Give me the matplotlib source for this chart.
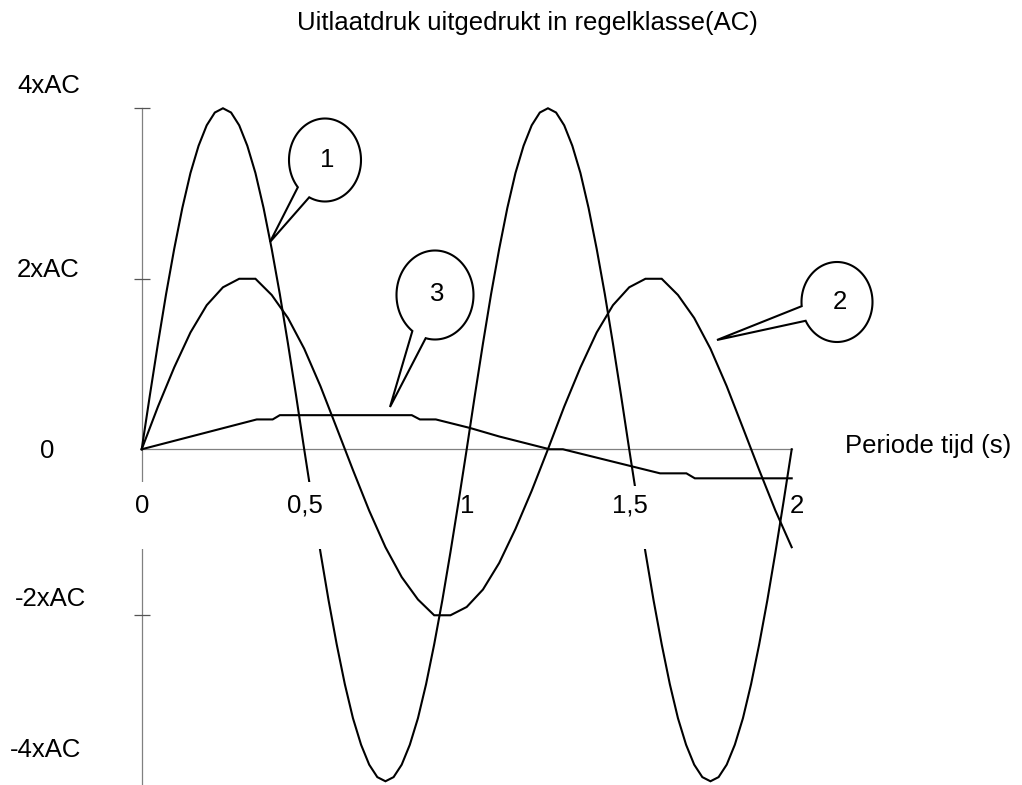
import numpy as np
import matplotlib
matplotlib.use('Agg')
import matplotlib.pyplot as plt
from matplotlib.patches import Rectangle, Polygon

plt.rcParams['font.family'] = ['Liberation Sans', 'DejaVu Sans']
FS = 18.5

# curve 1: fast pressure wave (4xAC)
x1 = [i * 0.025 for i in range(81)]
y1 = [0, 0.63, 1.24, 1.82, 2.35, 2.83, 3.24, 3.56, 3.80, 3.95, 4.00,
      3.95, 3.80, 3.56, 3.24, 2.83, 2.35, 1.82, 1.24, 0.63, 0,
      -0.63, -1.24, -1.82, -2.35, -2.83, -3.24, -3.56, -3.80, -3.95, -4.00,
      -3.95, -3.80, -3.56, -3.24, -2.83, -2.35, -1.82, -1.24, -0.63, 0,
      0.63, 1.24, 1.82, 2.35, 2.83, 3.24, 3.56, 3.80, 3.95, 4.00,
      3.95, 3.80, 3.56, 3.24, 2.83, 2.35, 1.82, 1.24, 0.63, 0,
      -0.63, -1.24, -1.82, -2.35, -2.83, -3.24, -3.56, -3.80, -3.95, -4.00,
      -3.95, -3.80, -3.56, -3.24, -2.83, -2.35, -1.82, -1.24, -0.63, 0]

# curve 2: 2xAC wave
x2 = [i * 0.05 for i in range(41)]
y2 = [0, 0.50, 0.96, 1.37, 1.69, 1.90, 2.00, 2.00, 1.81, 1.54, 1.18,
      0.74, 0.25, -0.25, -0.74, -1.18, -1.54, -1.81, -2.00, -2.00, -1.90,
      -1.69, -1.37, -0.96, -0.50, 0, 0.50, 0.96, 1.37, 1.69, 1.90,
      2.00, 2.00, 1.81, 1.54, 1.18, 0.74, 0.25, -0.25, -0.74, -1.18]

# curve 3: small slow wave
x3 = [0, 0.354, 0.403, 0.425, 0.831, 0.856, 0.905, 1.01, 1.10, 1.255,
      1.296, 1.595, 1.676, 1.702, 2.0]
y3 = [0, 0.35, 0.35, 0.40, 0.40, 0.35, 0.35, 0.25, 0.15, 0.0,
      0.0, -0.29, -0.29, -0.35, -0.35]

xtick_vals = [0, 0.5, 1, 1.5, 2]
xtick_labels = ['0', '0,5', '1', '1,5', '2']
ytick_vals = [4, 2, -2]

# negative half is drawn slightly compressed in the original
NEG = 0.9736
def fwd(y):
    y = np.asarray(y, dtype=float)
    return np.where(y < 0, y * NEG, y)
def inv(t):
    t = np.asarray(t, dtype=float)
    return np.where(t < 0, t / NEG, t)

W, H = 1022, 785
fig = plt.figure(figsize=(W / 100, H / 100), dpi=100)

ybot = -4.045
ytop = 4.3
ax = fig.add_axes([141.7 / W, 0, 650 / W, (H - 82.7) / H])
ax.set_yscale('function', functions=(fwd, inv))
ax.set_xlim(0, 2)
ax.set_ylim(ybot, ytop)

for xs, ys in [(x1, y1), (x2, y2), (x3, y3)]:
    ax.plot(xs, ys, color='black', lw=1.5, clip_on=False, zorder=2,
            solid_joinstyle='miter')

# white gaps (label boxes in the original)
for (x0, x1_, yb, yt) in [(-0.02, 0.02, -1.20, -0.394),
                         (0.49, 0.57, -1.20, -0.394),
                         (1.49, 1.57, -1.20, -0.44)]:
    ax.add_patch(Rectangle((x0, yb), x1_ - x0, yt - yb, facecolor='white',
                           edgecolor='none', zorder=3, clip_on=False))

for s in ['top', 'right']:
    ax.spines[s].set_visible(False)
ax.spines['bottom'].set_position(('data', 0))
ax.spines['bottom'].set_bounds(0, 2)
ax.spines['left'].set_bounds(ybot, 4)
for s in ['left', 'bottom']:
    ax.spines[s].set_color('#808080')
    ax.spines[s].set_linewidth(0.9)
    ax.spines[s].set_zorder(1)
ax.set_xticks([])
ax.set_yticks(ytick_vals)
ax.set_yticklabels([])
ax.tick_params(axis='y', direction='inout', length=12, width=0.9, color='#555555')
ax.patch.set_visible(False)

for xv, lab in zip(xtick_vals, xtick_labels):
    shift = 0.016 if lab == '2' else 0.003
    ax.text(xv + shift, -0.767, lab, ha='center', va='baseline', fontsize=FS, zorder=5)

# overlay in pixel coordinates for the free text and callouts
ov = fig.add_axes([0, 0, 1, 1])
ov.set_xlim(0, W)
ov.set_ylim(H, 0)
ov.axis('off')
ov.patch.set_visible(False)

ov.text(527, 30, 'Uitlaatdruk uitgedrukt in regelklasse(AC)', ha='center',
        va='baseline', fontsize=FS)
ov.text(845, 453, 'Periode tijd (s)', ha='left', va='baseline', fontsize=FS)
for lx, ly, lab, ha in [(17, 93, '4xAC', 'left'), (17, 277, '2xAC', 'left'),
                        (47, 458, '0', 'center'), (15, 606, '-2xAC', 'left'),
                        (10, 757, '-4xAC', 'left')]:
    ov.text(lx, ly, lab, ha=ha, va='baseline', fontsize=FS)


def callout(cx, cy, rx, ry, t1, t2, tip, label, lx, ly):
    t = np.radians(np.linspace(t1, t2 + 360, 120))
    pts = np.column_stack([cx + rx * np.cos(t), cy + ry * np.sin(t)])
    pts = np.vstack([pts, tip])
    ov.add_patch(Polygon(pts, closed=True, facecolor='white', edgecolor='black',
                         lw=1.5, joinstyle='miter', zorder=4))
    ov.text(lx, ly, label, ha='center', va='baseline', fontsize=FS, zorder=5)


callout(325, 160, 36, 41.5, 139, 116, (270, 242), '1', 326.7, 167)
callout(435, 295, 38.5, 44.5, 126, 104, (390, 407), '3', 436.7, 300.7)
callout(837, 302, 35.5, 40, 174, 152, (717, 340), '2', 840, 309.3)

fig.savefig('out.png', dpi=100, facecolor='white')
